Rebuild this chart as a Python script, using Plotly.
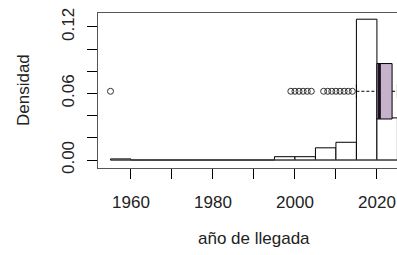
import plotly.graph_objects as go

# Histogram (density), 5-year bins
bin_starts = [1955, 1960, 1965, 1970, 1975, 1980, 1985, 1990, 1995, 2000, 2005, 2010, 2015, 2020]
bin_width = 5
densities = [0.001, 0, 0, 0, 0, 0, 0, 0, 0.003, 0.003, 0.011, 0.016, 0.127, 0.038]

# Boxplot summary (horizontal, drawn at y = box_pos)
box_pos = 0.062
box_half = 0.025
q1 = 2020
median = 2020.6
q3 = 2023.7
lower_whisker = 2015
upper_whisker = 2025
outliers = [1955, 1999, 2000, 2001, 2002, 2003, 2004, 2007, 2008, 2009, 2010, 2011, 2012, 2013, 2014]

x_ticks = [1960, 1970, 1980, 1990, 2000, 2010, 2020]
x_ticktext = ["1960", "", "1980", "", "2000", "", "2020"]
y_ticks = [0.00, 0.02, 0.04, 0.06, 0.08, 0.10, 0.12]
y_ticktext = ["0.00", "", "", "0.06", "", "", "0.12"]

FONT = "Liberation Sans, Arial, sans-serif"
TXT = "#222222"

fig = go.Figure()

fig.add_trace(go.Bar(
    x=[s + bin_width / 2 for s in bin_starts],
    y=densities,
    width=bin_width,
    marker=dict(color="white", line=dict(color="black", width=1)),
    hoverinfo="skip",
))

# zero-height bins drawn as a baseline
fig.add_trace(go.Scatter(
    x=[bin_starts[0], bin_starts[-1] + bin_width], y=[0, 0], mode="lines",
    line=dict(color="#555555", width=1), hoverinfo="skip",
))

# box (no built-in whiskers)
fig.add_trace(go.Box(
    y=[box_pos], q1=[q1], median=[median], q3=[q3],
    lowerfence=[q1], upperfence=[q3],
    orientation="h", width=2 * box_half, whiskerwidth=0,
    fillcolor="#c6b2cb", line=dict(color="black", width=1),
    boxpoints=False, hoverinfo="skip",
))

# thick median
fig.add_trace(go.Scatter(
    x=[median, median], y=[box_pos - box_half, box_pos + box_half], mode="lines",
    line=dict(color="#1a1020", width=3), hoverinfo="skip",
))

# dashed whiskers
for a, b in [(lower_whisker, q1), (q3, upper_whisker)]:
    fig.add_trace(go.Scatter(
        x=[a, b], y=[box_pos, box_pos], mode="lines",
        line=dict(color="black", width=1, dash="3px,2px"), hoverinfo="skip",
    ))
# staples
for w in [lower_whisker, upper_whisker]:
    fig.add_trace(go.Scatter(
        x=[w, w], y=[box_pos - box_half / 4, box_pos + box_half / 4], mode="lines",
        line=dict(color="black", width=1), hoverinfo="skip",
    ))

# outliers
fig.add_trace(go.Scatter(
    x=outliers, y=[box_pos] * len(outliers), mode="markers",
    marker=dict(symbol="circle-open", size=6, color="#333333", line=dict(width=1)),
    hoverinfo="skip",
))

fig.update_layout(
    width=397, height=255,
    margin=dict(l=98, r=0, t=13, b=87, pad=0, autoexpand=False),
    paper_bgcolor="white", plot_bgcolor="white",
    showlegend=False,
    font=dict(family=FONT, size=17, color=TXT),
    bargap=0,
)
fig.update_xaxes(
    range=[1951.95, 2024.9], automargin=False,
    tickmode="array", tickvals=x_ticks, ticktext=x_ticktext,
    ticks="outside", ticklen=10, tickwidth=1, tickcolor="black",
    showgrid=False, zeroline=False,
    showline=True, linecolor="#555555", linewidth=1, mirror=True,
    tickfont=dict(family=FONT, size=17, color=TXT),
    ticklabelstandoff=9,
)
fig.update_yaxes(
    range=[-0.0072, 0.1326], automargin=False,
    tickmode="array", tickvals=y_ticks, ticktext=y_ticktext,
    ticks="outside", ticklen=10, tickwidth=1, tickcolor="black",
    showgrid=False, zeroline=False,
    showline=True, linecolor="#555555", linewidth=1, mirror=False,
    tickangle=-90,
    tickfont=dict(family=FONT, size=17, color=TXT),
    ticklabelstandoff=6,
)

fig.add_annotation(
    text="año de llegada", xref="paper", yref="paper",
    x=(253.5 - 98) / 299, y=(168 - 238) / 155,
    xanchor="center", yanchor="middle", showarrow=False,
    font=dict(family=FONT, size=17, color=TXT),
)
fig.add_annotation(
    text="Densidad", xref="paper", yref="paper",
    x=(23 - 98) / 299, y=(168 - 90) / 155,
    xanchor="center", yanchor="middle", textangle=-90, showarrow=False,
    font=dict(family=FONT, size=17, color=TXT),
)

fig.write_html(
    "out.html",
    config={"displayModeBar": False, "staticPlot": True},
    post_script="document.body.style.margin='0';document.body.style.overflow='hidden';",
)
